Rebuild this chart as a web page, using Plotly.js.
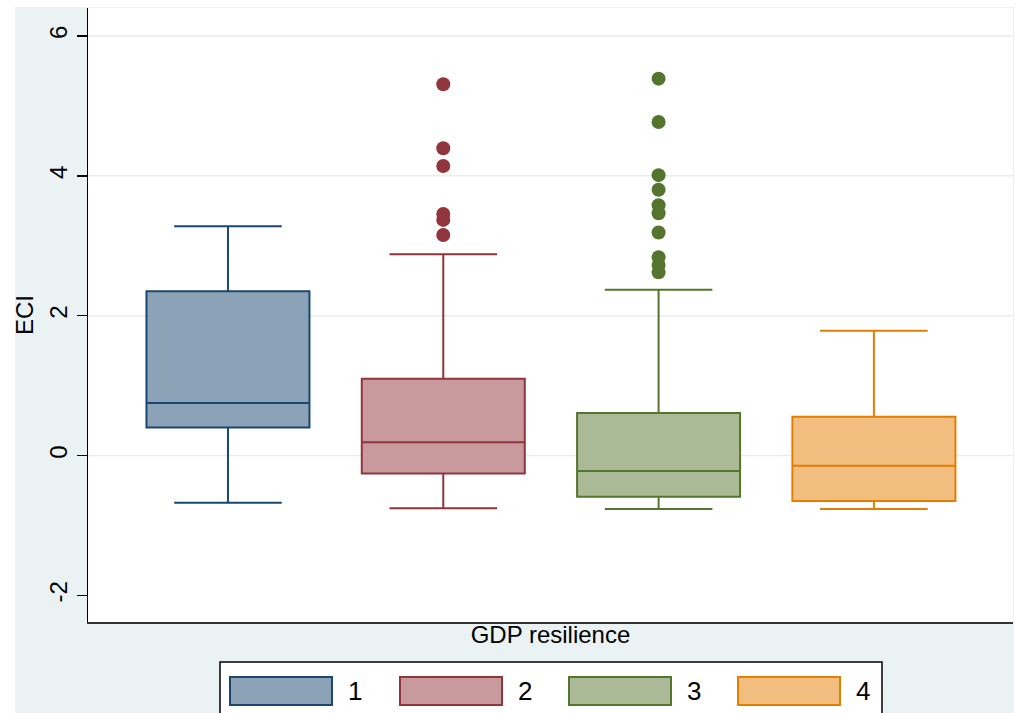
<!DOCTYPE html>
<html><head><meta charset="utf-8">
<script src="https://cdn.plot.ly/plotly-3.0.1.min.js"></script>
<style>html,body{margin:0;padding:0;background:#fff;}</style>
</head><body>
<div id="chart" style="width:1018px;height:713px;"></div>
<script>
// ---- data ----
const groups = ["1", "2", "3", "4"];
const groupX = [1, 2, 3, 4];
const lowerFence = [-0.675, -0.755, -0.765, -0.765];
const q1 = [0.40, -0.255, -0.59, -0.65];
const median = [0.75, 0.19, -0.22, -0.146];
const q3 = [2.35, 1.10, 0.61, 0.555];
const upperFence = [3.28, 2.88, 2.37, 1.785];
const outliers1 = [];
const outliers2 = [5.31, 4.395, 4.14, 3.455, 3.37, 3.155];
const outliers3 = [5.39, 4.77, 4.01, 3.80, 3.58, 3.465, 3.19, 2.835, 2.725, 2.62];
const outliers4 = [];
const yTicks = [-2, 0, 2, 4, 6];
const yTickText = ["-2", "0", "2", "4", "6"];
const gridValues = [0, 2, 4, 6];
const xTitle = "GDP resilience";
const yTitle = "ECI";

// ---- styles ----
const lineColors = ["#1a476f", "#90353b", "#55752f", "#e37e00"];
const fillColors = ["#8ca3b7", "#c89a9d", "#aaba97", "#f1be7f"];
const outliers = [outliers1, outliers2, outliers3, outliers4];
const FONT = "Liberation Sans, Arial, sans-serif";

const W = 1018, H = 713;
const M = {l: 88, r: 5, t: 8, b: 91};
const PW = W - M.l - M.r, PH = H - M.t - M.b;
const px = x => (x - M.l) / PW;
const py = y => (H - M.b - y) / PH;

const traces = [];
groups.forEach((g, i) => {
  traces.push({
    type: 'box', name: g, x: [groupX[i]],
    q1: [q1[i]], median: [median[i]], q3: [q3[i]],
    lowerfence: [lowerFence[i]], upperfence: [upperFence[i]],
    width: 0.757, whiskerwidth: 0.66, boxpoints: false,
    fillcolor: fillColors[i], line: {color: lineColors[i], width: 2},
    showlegend: false, hoverinfo: 'skip'
  });
  if (outliers[i].length) {
    traces.push({
      type: 'scatter', mode: 'markers', name: g + ' outliers',
      x: outliers[i].map(() => groupX[i]), y: outliers[i],
      marker: {size: 14, color: lineColors[i]},
      showlegend: false, hoverinfo: 'skip', cliponaxis: false
    });
  }
});

const shapes = [];
// white strips outside the Stata graph region
shapes.push({type: 'rect', xref: 'paper', yref: 'paper', x0: px(0), x1: px(15), y0: py(720), y1: py(-5), fillcolor: '#ffffff', line: {width: 0}, layer: 'below'});
shapes.push({type: 'rect', xref: 'paper', yref: 'paper', x0: px(0), x1: px(1020), y0: py(7), y1: py(-5), fillcolor: '#ffffff', line: {width: 0}, layer: 'below'});
shapes.push({type: 'rect', xref: 'paper', yref: 'paper', x0: px(1014), x1: px(1020), y0: py(720), y1: py(-5), fillcolor: '#ffffff', line: {width: 0}, layer: 'below'});
// gridlines
gridValues.forEach(v => shapes.push({type: 'line', xref: 'paper', yref: 'y', x0: 0, x1: 1, y0: v, y1: v, line: {color: '#e6eef0', width: 1.5}, layer: 'below'}));
// legend frame
shapes.push({type: 'rect', xref: 'paper', yref: 'paper', x0: px(220), x1: px(882), y0: py(730), y1: py(662), fillcolor: '#ffffff', line: {color: '#000000', width: 1.5}});

const annotations = [];
const swX = [230, 400, 569, 738];
groups.forEach((g, i) => {
  shapes.push({type: 'rect', xref: 'paper', yref: 'paper', x0: px(swX[i]), x1: px(swX[i] + 102), y0: py(705), y1: py(677), fillcolor: fillColors[i], line: {color: lineColors[i], width: 2}});
  annotations.push({xref: 'paper', yref: 'paper', x: px(swX[i] + 116), y: py(691), xanchor: 'left', yanchor: 'middle', text: g, showarrow: false, font: {family: FONT, size: 26, color: '#000'}});
});

const layout = {
  width: W, height: H, margin: M,
  paper_bgcolor: '#eaf2f3', plot_bgcolor: '#ffffff',
  font: {family: FONT, color: '#000'},
  showlegend: false,
  xaxis: {
    range: [0.35, 4.646], showticklabels: false, ticks: '', showgrid: false, zeroline: false,
    showline: true, linecolor: '#333333', linewidth: 2, fixedrange: true,
    title: {text: xTitle, font: {family: FONT, size: 24, color: '#000'}, standoff: 3}
  },
  yaxis: {
    range: [-2.38, 6.40], tickmode: 'array', tickvals: yTicks, ticktext: yTickText,
    ticks: 'outside', ticklen: 10, tickwidth: 1.5, tickcolor: '#000', tickangle: -90,
    tickfont: {family: FONT, size: 24, color: '#000'},
    showgrid: false, zeroline: false, showline: true, linecolor: '#000', linewidth: 1.5, fixedrange: true,
    title: {text: yTitle, font: {family: FONT, size: 24, color: '#000'}, standoff: 4}
  },
  shapes: shapes, annotations: annotations
};

Plotly.newPlot('chart', traces, layout, {displayModeBar: false, staticPlot: true});
</script>
</body></html>
